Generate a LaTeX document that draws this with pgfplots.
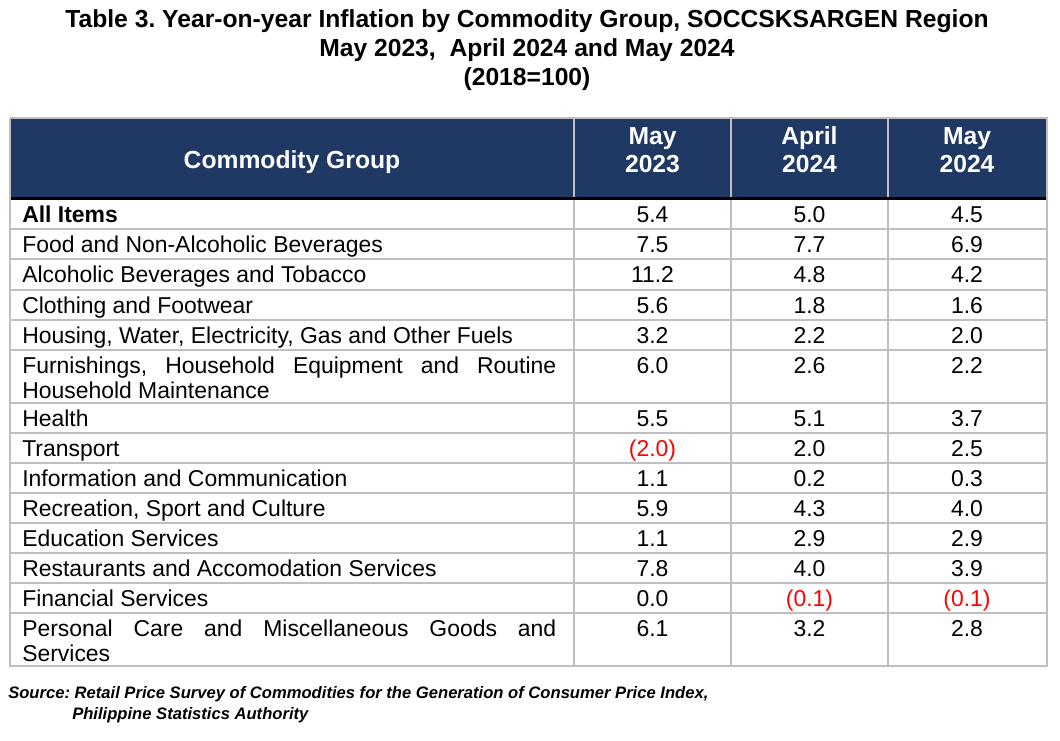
\documentclass[border=0pt]{standalone}
\usepackage{pgfplots}
\pgfplotsset{compat=1.18}
\usepackage{pgfplotstable}
\usepackage{fontspec}
\setmainfont{Liberation Sans}
\frenchspacing
\definecolor{navy}{HTML}{1F3864}
\definecolor{gridg}{HTML}{BFBFBF}
\definecolor{negred}{HTML}{FF0000}
\newcommand\bodyfont{\fontsize{17.2}{18.75}\selectfont}
\newcommand\headfont{\fontsize{18.5}{21}\selectfont\bfseries}
\newcommand\srcfont{\fontsize{12.45}{15}\selectfont\bfseries\itshape}
\def\stripminus-{}
\newcommand\valfmt[1]{\ifdim#1pt<0pt \textcolor{negred}{(\expandafter\stripminus#1)}\else #1\fi}

% baseline (px from top), May 2023, April 2024, May 2024
\pgfplotstableread{
yb    v1   v2   v3
222.5 5.4  5.0  4.5
252.5 7.5  7.7  6.9
282.5 11.2 4.8  4.2
313.5 5.6  1.8  1.6
343.5 3.2  2.2  2.0
373.5 6.0  2.6  2.2
426.5 5.5  5.1  3.7
456.5 -2.0 2.0  2.5
486.5 1.1  0.2  0.3
516.5 5.9  4.3  4.0
546.5 1.1  2.9  2.9
576.5 7.8  4.0  3.9
606.5 0.0  -0.1 -0.1
636.5 6.1  3.2  2.8
}\vals

\begin{document}
\begin{tikzpicture}
\begin{axis}[
  scale only axis, width=795pt, height=555pt,
  xmin=0, xmax=1060, ymin=0, ymax=740, y dir=reverse,
  enlargelimits=false, hide axis, clip=false,
]
% bounding
\addplot[draw=none] coordinates {(0,0) (1060,740)};
% header fill
\addplot[fill=navy, draw=none] coordinates {(11,119) (1046,119) (1046,198) (11,198) (11,119)};
% horizontal row lines
\addplot[gridg, line width=1.5pt] coordinates {(10,229) (1047,229)};
\addplot[gridg, line width=1.5pt] coordinates {(10,259) (1047,259)};
\addplot[gridg, line width=1.5pt] coordinates {(10,290) (1047,290)};
\addplot[gridg, line width=1.5pt] coordinates {(10,320) (1047,320)};
\addplot[gridg, line width=1.5pt] coordinates {(10,350) (1047,350)};
\addplot[gridg, line width=1.5pt] coordinates {(10,403) (1047,403)};
\addplot[gridg, line width=1.5pt] coordinates {(10,433) (1047,433)};
\addplot[gridg, line width=1.5pt] coordinates {(10,463) (1047,463)};
\addplot[gridg, line width=1.5pt] coordinates {(10,493) (1047,493)};
\addplot[gridg, line width=1.5pt] coordinates {(10,523) (1047,523)};
\addplot[gridg, line width=1.5pt] coordinates {(10,553) (1047,553)};
\addplot[gridg, line width=1.5pt] coordinates {(10,583) (1047,583)};
\addplot[gridg, line width=1.5pt] coordinates {(10,613) (1047,613)};
% vertical column lines
\addplot[gridg, line width=1.5pt] coordinates {(574,118) (574,666)};
\addplot[gridg, line width=1.5pt] coordinates {(731,118) (731,666)};
\addplot[gridg, line width=1.5pt] coordinates {(888,118) (888,666)};
% outer border
\addplot[gridg, line width=1.5pt] coordinates {(10,118) (1047,118) (1047,666) (10,666) (10,118)};
% thick header rule
\addplot[black, line width=2.4pt] coordinates {(11,198.5) (1046,198.5)};

% values
\addplot[draw=none, mark=none, point meta=explicit symbolic,
  nodes near coords={\valfmt{\pgfplotspointmeta}},
  every node near coord/.style={anchor=base, font=\bodyfont, inner sep=0pt, text=black}]
  table[x expr=652.5, y=yb, meta=v1] {\vals};
\addplot[draw=none, mark=none, point meta=explicit symbolic,
  nodes near coords={\valfmt{\pgfplotspointmeta}},
  every node near coord/.style={anchor=base, font=\bodyfont, inner sep=0pt, text=black}]
  table[x expr=809.5, y=yb, meta=v2] {\vals};
\addplot[draw=none, mark=none, point meta=explicit symbolic,
  nodes near coords={\valfmt{\pgfplotspointmeta}},
  every node near coord/.style={anchor=base, font=\bodyfont, inner sep=0pt, text=black}]
  table[x expr=967, y=yb, meta=v3] {\vals};

% title
\node[anchor=base, font=\headfont, inner sep=0pt] at (axis cs:527,27) {Table 3. Year-on-year Inflation by Commodity Group, SOCCSKSARGEN Region};
\node[anchor=base, font=\headfont, inner sep=0pt] at (axis cs:527,56) {May 2023,\ \ April 2024 and May 2024};
\node[anchor=base, font=\headfont, inner sep=0pt] at (axis cs:527,85) {(2018=100)};

% header
\node[anchor=base, font=\headfont, text=white, inner sep=0pt] at (axis cs:292,168) {Commodity Group};
\node[anchor=base, font=\headfont, text=white, inner sep=0pt] at (axis cs:652.5,144) {May};
\node[anchor=base, font=\headfont, text=white, inner sep=0pt] at (axis cs:652.5,172) {2023};
\node[anchor=base, font=\headfont, text=white, inner sep=0pt] at (axis cs:809.5,144) {April};
\node[anchor=base, font=\headfont, text=white, inner sep=0pt] at (axis cs:809.5,172) {2024};
\node[anchor=base, font=\headfont, text=white, inner sep=0pt] at (axis cs:967,144) {May};
\node[anchor=base, font=\headfont, text=white, inner sep=0pt] at (axis cs:967,172) {2024};

% row labels
\begin{scope}[every node/.style={anchor=base west, font=\bodyfont, inner sep=0pt}]
\node at (axis cs:22,222.5) {\textbf{All Items}};
\node at (axis cs:22,252.5) {Food and Non-Alcoholic Beverages};
\node at (axis cs:22,282.5) {Alcoholic Beverages and Tobacco};
\node at (axis cs:22,313.5) {Clothing and Footwear};
\node at (axis cs:22,343.5) {Housing, Water, Electricity, Gas and Other Fuels};
\node at (axis cs:22,373.5) {\hbox to 400.5pt{Furnishings,\hfill Household\hfill Equipment\hfill and\hfill Routine}};
\node at (axis cs:22,398.5) {Household Maintenance};
\node at (axis cs:22,426.5) {Health};
\node at (axis cs:22,456.5) {Transport};
\node at (axis cs:22,486.5) {Information and Communication};
\node at (axis cs:22,516.5) {Recreation, Sport and Culture};
\node at (axis cs:22,546.5) {Education Services};
\node at (axis cs:22,576.5) {Restaurants and Accomodation Services};
\node at (axis cs:22,606.5) {Financial Services};
\node at (axis cs:22,636.5) {\hbox to 400.5pt{Personal\hfill Care\hfill and\hfill Miscellaneous\hfill Goods\hfill and}};
\node at (axis cs:22,661.5) {Services};
\end{scope}

% source
\node[anchor=base west, font=\srcfont, inner sep=0pt] at (axis cs:8,698) {Source: Retail Price Survey of Commodities for the Generation of Consumer Price Index,};
\node[anchor=base west, font=\srcfont, inner sep=0pt] at (axis cs:72,719) {Philippine Statistics Authority};
\end{axis}
\end{tikzpicture}
\end{document}
